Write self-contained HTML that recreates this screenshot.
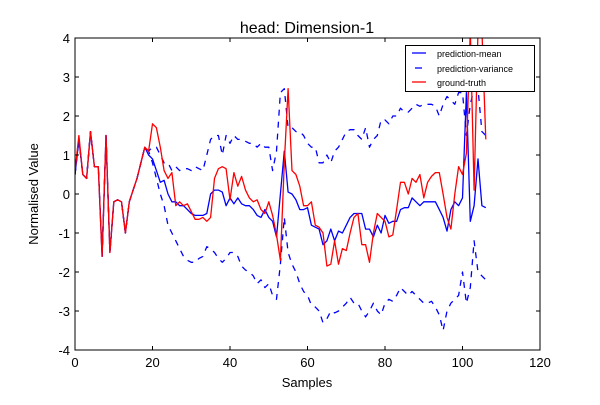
<!DOCTYPE html>
<html><head><meta charset="utf-8"><style>
body{margin:0;background:#fff;}
svg text{font-family:"Liberation Sans","DejaVu Sans",sans-serif;}
</style></head><body>
<svg id="chart" width="600" height="400" xmlns="http://www.w3.org/2000/svg">
<rect width="600" height="400" fill="#fff"/>
<text x="307" y="33" text-anchor="middle" font-size="16">head: Dimension-1</text>
<defs><clipPath id="clip"><rect x="75" y="38" width="465" height="312"/></clipPath></defs>
<g id="series" clip-path="url(#clip)"></g>
<rect x="75" y="38" width="465" height="312" fill="none" stroke="#000" stroke-width="1"/>
<g id="axes"></g>
<text x="307" y="387" text-anchor="middle" font-size="13">Samples</text>
<text x="38" y="194" text-anchor="middle" font-size="13" transform="rotate(-90 38 194)">Normalised Value</text>
<g>
<rect x="405.5" y="45.5" width="129" height="46" fill="#fff" stroke="#000" stroke-width="1"/>
<line x1="412" y1="53" x2="426" y2="53" stroke="#0000ff" stroke-width="1.3"/>
<text x="437" y="57" font-size="9">prediction-mean</text>
<line x1="415" y1="68" x2="422" y2="68" stroke="#0000ff" stroke-width="1.3"/>
<text x="437" y="72" font-size="9">prediction-variance</text>
<line x1="412" y1="82" x2="426" y2="82" stroke="#ff0000" stroke-width="1.3"/>
<text x="437" y="86" font-size="9">ground-truth</text>
</g>
</svg>
<script>
const xTicks=[0,20,40,60,80,100,120];
const yTicks=[-4,-3,-2,-1,0,1,2,3,4];
const mean=[0.5,1.4,0.5,0.4,1.6,0.7,0.7,-1.6,1.5,-1.5,-0.2,-0.15,-0.2,-1.0,-0.2,0.1,0.4,0.8,1.2,1.0,0.9,0.6,0.3,0.35,0.0,-0.2,-0.2,-0.3,-0.3,-0.4,-0.5,-0.55,-0.55,-0.55,-0.5,0.0,0.1,0.1,0.05,-0.3,-0.1,-0.25,-0.1,-0.25,-0.3,-0.3,-0.4,-0.55,-0.6,-0.4,-0.6,-0.7,-1.1,0.0,1.1,0.05,0.0,-0.15,-0.4,-0.4,-0.35,-0.8,-0.85,-0.9,-1.3,-1.2,-0.9,-1.2,-0.95,-1.0,-0.8,-0.6,-0.5,-0.5,-0.5,-0.9,-0.9,-1.1,-0.8,-1.0,-0.55,-0.75,-0.7,-0.7,-0.4,-0.35,-0.35,-0.1,-0.2,-0.3,-0.2,-0.2,-0.2,-0.2,-0.4,-0.6,-0.95,-0.4,-0.2,-0.3,-0.1,2.6,-0.7,-0.3,0.9,-0.3,-0.35];
const truth=[0.6,1.5,0.5,0.4,1.6,0.7,0.7,-1.6,1.5,-1.5,-0.2,-0.15,-0.2,-1.0,-0.2,0.1,0.4,0.8,1.2,1.1,1.8,1.7,1.2,0.6,0.4,0.55,-0.3,-0.2,-0.3,-0.25,-0.45,-0.65,-0.65,-0.6,-0.7,-0.6,0.4,0.65,0.7,0.65,-0.15,0.55,0.2,0.45,0.1,-0.1,-0.2,-0.15,-0.4,-0.5,-0.2,-0.55,-1.05,-1.7,0.8,2.7,0.6,0.5,0.2,-0.3,-0.3,-0.2,-0.8,-0.85,-1.0,-1.85,-1.8,-1.2,-1.8,-1.4,-1.45,-1.0,-0.6,-0.5,-1.3,-1.3,-1.75,-1.0,-0.5,-0.6,-0.7,-1.1,-1.05,-0.4,0.3,0.3,0.0,0.4,0.3,0.5,-0.1,0.3,0.45,0.55,0.55,0.0,-0.6,-0.9,0.0,0.7,0.5,1.05,4.2,0.1,4.2,4.2,1.4];
const upper=[0.5,1.4,0.5,0.4,1.6,0.7,0.7,-1.6,1.5,-1.5,-0.2,-0.15,-0.2,-1.0,-0.2,0.1,0.4,0.8,1.2,1.1,1.2,1.2,1.0,0.8,0.8,0.6,0.7,0.6,0.65,0.65,0.6,0.7,0.65,0.6,1.0,1.4,1.5,1.5,1.0,1.5,1.3,1.5,1.4,1.4,1.35,1.3,1.3,1.2,1.3,1.2,1.2,0.6,1.1,2.6,2.7,1.7,1.7,1.6,1.6,1.5,1.3,1.2,1.2,0.8,0.8,1.0,0.8,1.1,1.2,1.4,1.6,1.65,1.65,1.5,1.4,1.7,1.2,1.4,1.5,1.9,1.9,1.8,2.0,2.0,2.2,2.1,2.1,2.2,2.3,2.25,2.3,2.3,2.3,2.25,2.0,2.3,2.5,2.4,2.3,2.6,2.6,1.5,2.3,2.7,2.7,1.6,1.5];
const lower=[0.5,1.4,0.5,0.4,1.6,0.7,0.7,-1.6,1.5,-1.5,-0.2,-0.15,-0.2,-1.0,-0.2,0.1,0.4,0.8,1.2,1.1,0.8,0.4,0.0,-0.3,-0.8,-1.0,-1.2,-1.4,-1.6,-1.7,-1.75,-1.75,-1.65,-1.6,-1.35,-1.4,-1.5,-1.65,-1.75,-1.65,-1.5,-1.5,-1.6,-1.85,-1.95,-2.0,-2.1,-2.3,-2.2,-2.4,-2.3,-2.6,-2.7,-1.8,-0.6,-1.5,-1.8,-2.0,-2.3,-2.5,-2.6,-2.85,-2.9,-3.0,-3.3,-3.2,-3.0,-3.05,-3.0,-2.9,-2.8,-2.65,-2.8,-2.8,-3.0,-3.15,-3.0,-2.8,-3.0,-3.1,-2.8,-2.7,-2.75,-2.6,-2.4,-2.5,-2.6,-2.5,-2.6,-2.7,-2.8,-2.8,-2.75,-2.9,-3.1,-3.5,-3.0,-2.8,-2.7,-2.6,-2.0,-2.8,-2.4,-1.2,-2.0,-2.1,-2.2];
const NS="http://www.w3.org/2000/svg";
const X=v=>75+v*465/120;
const Y=v=>194-v*39;
const axes=document.getElementById('axes');
const series=document.getElementById('series');
function mk(tag,attrs,parent){const e=document.createElementNS(NS,tag);for(const k in attrs)e.setAttribute(k,attrs[k]);parent.appendChild(e);return e;}
xTicks.forEach(t=>{
  const x=X(t);
  const l1=mk('line',{x1:x,y1:350,x2:x,y2:346,stroke:'#000'},axes);
  
  
  const l2=mk('line',{x1:x,y1:38,x2:x,y2:42,stroke:'#000'},axes);
  
  
  const tx=mk('text',{x:x,y:367,'text-anchor':'middle','font-size':13},axes);
  tx.textContent=t;
  
  
});
yTicks.forEach(t=>{
  const y=Y(t);
  const l1=mk('line',{x1:75,y1:y,x2:79,y2:y,stroke:'#000'},axes);
  
  
  const l2=mk('line',{x1:540,y1:y,x2:536,y2:y,stroke:'#000'},axes);
  
  
  const tx=mk('text',{x:70,y:y+5,'text-anchor':'end','font-size':13},axes);
  tx.textContent=t;
  
  
});
function line(arr,color,dash,name){
  const d=arr.map((v,i)=>(i?'L':'M')+X(i).toFixed(1)+','+Y(v).toFixed(1)).join('');
  const p=mk('path',{d:d,fill:'none',stroke:color,'stroke-width':1.3,'stroke-linejoin':'round'},series);
  if(dash)p.setAttribute('stroke-dasharray',dash);
  
  
}
line(upper,'#0000ff','6,6','variance-upper-line');
line(lower,'#0000ff','6,6','variance-lower-line');
line(mean,'#0000ff',null,'prediction-mean-line');
line(truth,'#ff0000',null,'ground-truth-line');
</script>
</body></html>
